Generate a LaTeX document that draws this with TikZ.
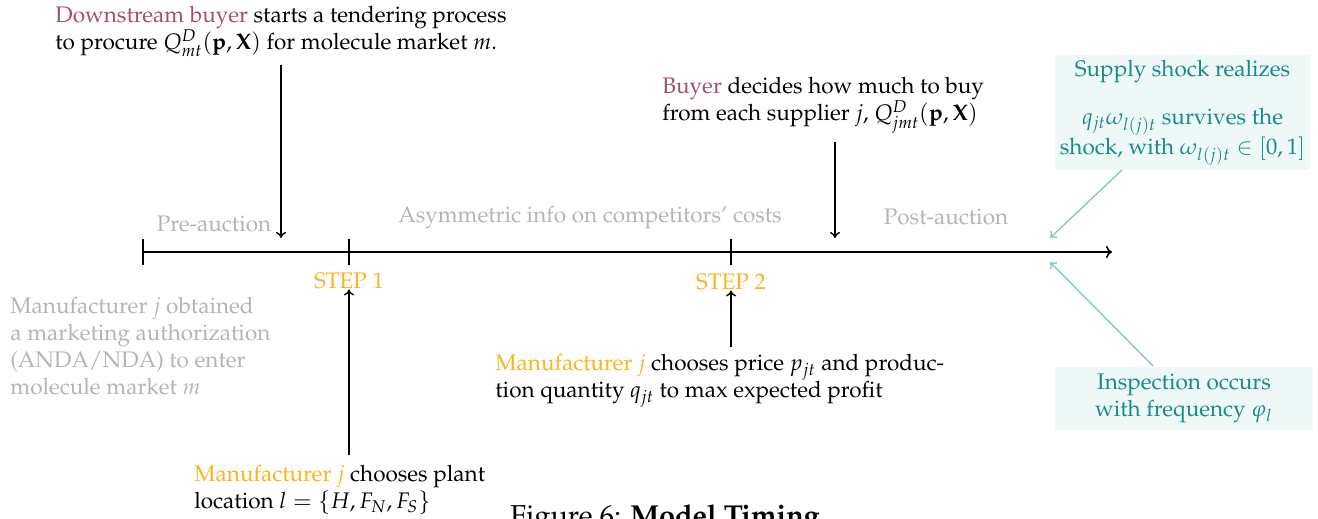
\documentclass[tikz,border=0pt]{standalone}
\usepackage[T1]{fontenc}
\usepackage{mathpazo}
\usetikzlibrary{arrows.meta}
\definecolor{buyer}{HTML}{A3506E}
\definecolor{stepc}{HTML}{FBB41A}
\definecolor{grayt}{HTML}{B4B4B4}
\definecolor{tealt}{HTML}{178A8A}
\definecolor{tealbg}{HTML}{EEF8F7}
\definecolor{tealarrow}{HTML}{88C9C6}
\begin{document}
\begin{tikzpicture}[x=0.5pt,y=-0.5pt,
  every node/.style={font=\fontsize{11.25}{13.5}\selectfont, inner sep=0pt},
  txt/.style={anchor=north west, align=left},
  phase/.style={text=grayt},
  steplbl/.style={text=stepc},
  evarrow/.style={-{To[length=3pt,width=5pt]}, line width=0.7pt},
  shockarrow/.style={-{To[length=3pt,width=5pt]}, line width=0.7pt, draw=tealarrow},
  tealbox/.style={fill=tealbg, text=tealt, align=center, minimum width=#1}
]
\useasboundingbox (0,0) rectangle (1318,519);

% timeline
\coordinate (t0) at (143,252);
\coordinate (t1) at (349,252);
\coordinate (t2) at (731,252);
\coordinate (tend) at (1112,252);
\draw[line width=0.8pt, -{To[length=3pt,width=6pt]}] (t0) -- (tend);
\draw[line width=0.8pt] ([yshift=-6.5pt]t0) -- ([yshift=6.5pt]t0);
\draw[line width=0.8pt] ([yshift=-6.5pt]t1) -- ([yshift=6.5pt]t1);
\draw[line width=0.8pt] ([yshift=-6.5pt]t2) -- ([yshift=6.5pt]t2);

% phase labels
\node[phase] (pre) at (214,224) {Pre-auction};
\node[phase] (asym) at (590,218) {Asymmetric info on competitors' costs};
\node[phase] (post) at (946,217) {Post-auction};

% steps
\node[steplbl] (s1) at (349,281) {STEP 1};
\node[steplbl] (s2) at (731,282) {STEP 2};

% top texts
\node[txt] (dn) at (55,6) {\textcolor{buyer}{Downstream buyer} starts a tendering process\\to procure $Q^D_{mt}(\mathbf{p},\mathbf{X})$ for molecule market $m$.};
\coordinate (a1s) at (281,65);
\coordinate (a1e) at (281,238);
\draw[evarrow] (a1s) -- (a1e);

\node[txt] (by) at (662,77) {\textcolor{buyer}{Buyer} decides how much to buy\\from each supplier $j$, $Q^D_{jmt}(\mathbf{p},\mathbf{X})$};
\coordinate (a2s) at (835,142);
\coordinate (a2e) at (835,238);
\draw[evarrow] (a2s) -- (a2e);

% bottom texts
\node[txt, text=grayt] (auth) at (10,297) {Manufacturer $j$ obtained\\a marketing authorization\\(ANDA/NDA) to enter\\molecule market $m$};

\node[txt] (price) at (495,354) {\textcolor{stepc}{Manufacturer $j$} chooses price $p_{jt}$ and produc-\\tion quantity $q_{jt}$ to max expected profit};
\coordinate (a3s) at (731,347);
\draw[evarrow] (a3s) -- (s2.south);

\node[txt] (plant) at (194,465) {\textcolor{stepc}{Manufacturer $j$} chooses plant\\location $l=\{H,F_N,F_S\}$};
\coordinate (a4s) at (349,455);
\draw[evarrow] (a4s) -- (s1.south);

% teal boxes
\node[tealbox=255pt/2, minimum height=115pt/2] (shock) at (1182.5,112.5) {Supply shock realizes\\[10.5pt]$q_{jt}\omega_{l(j)t}$ survives the\\shock, with $\omega_{l(j)t}\in[0,1]$};
\node[tealbox=258pt/2, minimum height=63pt/2] (insp) at (1184,398.5) {Inspection occurs\\with frequency $\varphi_l$};
\coordinate (b1s) at (1122,170);
\coordinate (b1e) at (1050,238);
\coordinate (b2s) at (1153,366);
\coordinate (b2e) at (1050,262);
\draw[shockarrow] (b1s) -- (b1e);
\draw[shockarrow] (b2s) -- (b2e);

% caption (cut off at the bottom of the page, as in the reference)
\node[anchor=north, font=\fontsize{14.4}{17}\selectfont] (cap) at (665,504) {Figure 6: \textbf{Model Timing}};
\end{tikzpicture}
\end{document}
